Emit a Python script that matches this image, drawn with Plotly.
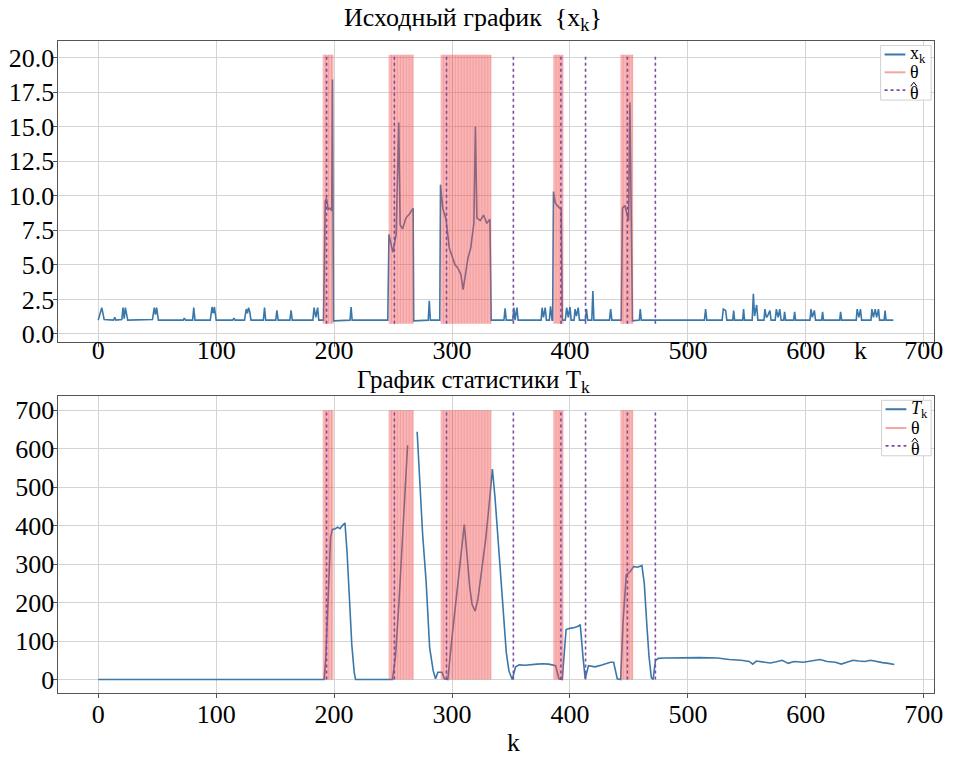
import plotly.graph_objects as go

# ---------------- data ----------------
# series x_k : (k, value) breakpoints
xk_points = [
    (0, 1.0), (3, 1.9), (5, 1.05), (13, 1.0), (14, 1.2), (15, 1.0), (20, 1.05), (21, 1.9), (22, 1.1),
    (23, 1.9), (25, 1.0), (46, 1.05), (47.5, 1.9), (48.5, 1.4), (49.5, 1.9), (51, 1.0), (72, 1.0),
    (73, 1.15), (74, 1.0), (80, 1.0), (81, 1.9), (82, 1.0), (95, 1.0), (96.5, 1.95), (97.5, 1.5),
    (98.5, 1.95), (100, 1.0), (114, 1.0), (115, 1.15), (116, 1.0), (124, 1.0), (125.5, 1.8),
    (126.5, 1.5), (127.5, 1.9), (128.5, 1.6), (129.5, 1.0), (140, 1.0), (141, 1.9), (142, 1.0),
    (150.5, 1.0), (151.5, 1.7), (152.5, 1.0), (162.5, 1.0), (163.5, 1.7), (164.5, 1.0), (182, 1.0),
    (183, 1.9), (184.5, 1.2), (186, 1.9), (187, 1.0), (190, 1.0),
    (191, 1.0), (192.5, 9.6), (193.5, 9.8), (195, 9.0), (196.5, 9.1), (198, 8.9), (198.6, 18.4),
    (199.5, 0.95),
    (213.5, 1.0), (214.4, 1.95), (215.3, 1.0), (245.5, 1.0),
    (246.5, 7.2), (249.8, 5.9), (252.6, 7.2), (254.8, 15.3), (256, 7.9), (258, 7.6), (261, 8.4),
    (264, 8.7), (267.0, 9.1), (267.5, 0.95),
    (279.8, 1.0), (280.7, 2.4), (281.6, 1.0), (289.6, 1.0),
    (290.2, 10.8), (292.1, 9.1), (294.9, 8.3), (297.7, 6.2), (300.5, 5.5), (302.5, 5.0), (304.7, 4.8),
    (306, 4.5), (307.5, 4.3), (309.4, 3.2), (311.6, 4.6), (313.5, 5.5), (315.8, 6.2), (317.5, 7.5),
    (318.5, 8.0), (319.8, 15.0), (321.1, 8.4), (323.9, 8.2), (326.7, 8.6), (329.5, 8.0), (332.1, 8.3),
    (333.2, 1.0),
    (344, 1.0), (345, 1.85), (346, 1.0), (351.5, 1.0), (352.4, 1.9), (353.4, 1.0), (355, 1.9),
    (356, 1.0), (375.5, 1.0), (376.4, 1.9), (377.5, 1.2), (379, 1.9), (380, 1.0), (382.5, 1.0),
    (383.5, 2.0), (384.8, 1.0),
    (385.3, 1.0), (386, 10.3), (387.5, 9.5), (389, 9.3), (391, 9.1), (392.5, 9.0), (393.5, 1.0),
    (396, 1.0), (397.2, 1.9), (398.5, 1.2), (400, 1.95), (401, 1.0), (403.5, 1.0), (404.3, 1.8),
    (405.5, 1.3), (407, 1.9), (408, 1.0), (413, 1.0), (414, 1.8), (415, 1.0), (418.5, 1.0),
    (419.4, 3.1), (420.3, 1.0), (433.5, 1.0), (434.5, 1.8), (435.5, 1.0), (443.5, 1.0),
    (444.5, 9.1), (446.5, 9.3), (449.7, 8.2), (450.8, 16.75), (453, 0.95), (458.8, 1.0), (459.6, 1.8),
    (460.5, 1.0),
    (514, 1.0), (515, 1.8), (516, 1.0), (529, 1.0), (530, 1.8), (532, 1.7), (533, 1.0), (538, 1.0),
    (538.8, 1.7), (539.6, 1.0), (546.4, 1.0), (547.2, 1.8), (548, 1.0), (554.5, 1.0), (555.5, 2.9),
    (556.5, 1.3), (558.3, 2.1), (559.3, 1.0), (564.5, 1.0), (565.3, 1.8), (566.5, 1.2), (567.5, 1.3),
    (569.5, 1.7), (570.5, 1.0), (574, 1.0), (575, 1.8), (576.5, 1.2), (577.9, 1.8), (579, 1.0),
    (581.2, 1.0), (582, 1.6), (582.8, 1.0), (589.7, 1.0), (590.5, 1.6), (591.3, 1.0), (603.5, 1.0),
    (604.4, 1.8), (605.5, 1.2), (607.2, 1.7), (608.2, 1.0), (613.4, 1.0), (614.2, 1.6), (615, 1.0),
    (628.7, 1.0), (629.5, 1.6), (630.3, 1.0), (642.7, 1.0), (643.5, 1.8), (645, 1.2), (646.3, 1.8),
    (647.3, 1.0), (655.2, 1.0), (656, 1.8), (657.3, 1.2), (658.8, 1.8), (660, 1.2), (661.6, 1.8),
    (662.5, 1.0), (666.4, 1.0), (667.2, 1.7), (668, 1.0), (674.2, 1.0),
]

# statistic T_k : (k, value) breakpoints (None = gap)
tk_points = [
    (0, 0), (191.5, 0), (193, 60), (195, 220), (197, 370), (198.5, 390), (201, 392), (203, 396),
    (205, 392), (207, 400), (209.2, 407), (211, 330), (213, 200), (215, 90), (217, 20), (218.2, 0),
    (249.5, 0), (252, 60), (255, 200), (258, 360), (260, 480), (262.3, 609), (None, None),
    (270.4, 644), (272.5, 520), (275, 380), (278, 255), (281, 83), (284, 23), (286, 2), (288, 19),
    (291.4, 19), (293.6, 2), (296.4, 0), (300, 110), (304, 220), (308, 340), (310.4, 403),
    (312.5, 330), (315, 240), (317, 195), (319.6, 178), (322, 210), (325, 280), (327, 330),
    (328.6, 367), (331, 440), (334.2, 547), (336.5, 470), (339.8, 332), (342, 220), (344, 135),
    (346, 70), (348.2, 23), (351, 0), (353.9, 33), (357, 38), (362, 37), (367, 39), (372, 40),
    (377, 41), (382, 40), (387.8, 36), (390.6, 2), (393.4, 0), (396.7, 130), (400, 133), (404, 135),
    (407.3, 139), (408.7, 143), (411, 60), (412.9, 2), (415.7, 36), (421.3, 33), (427, 38),
    (431, 42), (434.3, 45), (437, 45), (440.1, 2), (443, 0), (445, 150), (447.7, 272), (451, 280),
    (454.1, 294), (457, 292), (461, 296), (463, 250), (465, 150), (467, 60), (469, 5), (470.5, 0),
    (472.5, 50), (475, 55), (480, 56), (495, 57), (510, 57), (525, 56), (535, 52), (545, 50),
    (552, 47), (555, 40), (558, 48), (565, 45), (570, 43), (575, 46), (580, 50), (585, 42),
    (590, 47), (598, 45), (605, 49), (612, 52), (618, 47), (625, 45), (630, 40), (635, 44),
    (640, 50), (645, 48), (650, 47), (655, 50), (660, 46), (665, 44), (670, 42), (675, 39),
]

# change points theta (shaded bands) and estimates theta-hat (dotted lines)
theta_start = [190.3, 246.2, 290.3, 385.8, 442.7]
theta_end = [199.5, 267.5, 333.3, 394.5, 453.6]
theta_hat = [193.6, 251.1, 295.3, 352.0, 392.3, 413.2, 448.7, 472.4]

band_top = [0.74, 20.2]      # vertical extent of marks, top panel
band_bot = [0.0, 700.0]      # vertical extent of marks, bottom panel

x_ticks = [0, 100, 200, 300, 400, 500, 600, 700]
y1_ticks = [0, 2.5, 5, 7.5, 10, 12.5, 15, 17.5, 20]
y1_labels = ["0.0", "2.5", "5.0", "7.5", "10.0", "12.5", "15.0", "17.5", "20.0"]
y2_ticks = [0, 100, 200, 300, 400, 500, 600, 700]

legend1_labels = ["x<sub>k</sub>", "θ", "θ"]
legend2_labels = ["<i>T</i><sub>k</sub>", "θ", "θ"]

# ---------------- styling ----------------
FONT = "Liberation Serif"
BLUE = "#3b78aa"
RED_FILL = "rgba(240,80,80,0.42)"
RED_STRIPE = "rgba(230,70,70,0.22)"
STRIPE_STEP = 2.5
RED_LEG = "#f4a4a4"
PURPLE = "#7d4a9e"
GRID = "#d4d4d4"
FRAME = "#555555"

W, H = 954, 765
def px_x(p): return p / W
def px_y(p): return 1 - p / H

fig = go.Figure()

xk_k = [p[0] for p in xk_points]
xk_v = [p[1] for p in xk_points]
tk_k = [p[0] for p in tk_points]
tk_v = [p[1] for p in tk_points]

fig.add_trace(go.Scatter(x=xk_k, y=xk_v, mode="lines", line=dict(color=BLUE, width=1.6),
                         name="x_k", xaxis="x", yaxis="y", showlegend=False))
fig.add_trace(go.Scatter(x=tk_k, y=tk_v, mode="lines", line=dict(color=BLUE, width=1.6),
                         name="T_k", xaxis="x2", yaxis="y2", showlegend=False, connectgaps=False))

shapes = []
for xr, yr, ext in (("x", "y", band_top), ("x2", "y2", band_bot)):
    for s, e in zip(theta_start, theta_end):
        shapes.append(dict(type="rect", xref=xr, yref=yr, x0=s, x1=e, y0=ext[0], y1=ext[1],
                           fillcolor=RED_FILL, line=dict(width=0), layer="above"))
        n = int((e - s) / STRIPE_STEP)
        for j in range(1, n + 1):
            xs = s + j * STRIPE_STEP
            if xs < e:
                shapes.append(dict(type="line", xref=xr, yref=yr, x0=xs, x1=xs, y0=ext[0], y1=ext[1],
                                   line=dict(color=RED_STRIPE, width=1), layer="above"))
    for t in theta_hat:
        shapes.append(dict(type="line", xref=xr, yref=yr, x0=t, x1=t, y0=ext[0], y1=ext[1],
                           line=dict(color=PURPLE, width=1.6, dash="dot"), layer="above"))

annotations = []

# hand-drawn legends (box, line samples, labels)
def add_legend(box, rows, labels):
    x0, y0, x1, y1 = box
    shapes.append(dict(type="rect", xref="paper", yref="paper",
                       x0=px_x(x0), x1=px_x(x1), y0=px_y(y1), y1=px_y(y0),
                       fillcolor="rgba(255,255,255,0.9)", line=dict(color="#d0d0d0", width=1),
                       layer="above"))
    styles = [dict(color=BLUE, width=2), dict(color=RED_LEG, width=2),
              dict(color=PURPLE, width=1.6, dash="dot")]
    for i, (ry, lab, st) in enumerate(zip(rows, labels, styles)):
        shapes.append(dict(type="line", xref="paper", yref="paper",
                           x0=px_x(x0 + 4), x1=px_x(x0 + 25), y0=px_y(ry), y1=px_y(ry),
                           line=st, layer="above"))
        ty = ry + (3 if i == 2 else 0)
        annotations.append(dict(text=lab, xref="paper", yref="paper", x=px_x(x0 + 28), y=px_y(ty),
                                xanchor="left", yanchor="middle", showarrow=False,
                                font=dict(family=FONT, size=18, color="black")))
        if i == 2:
            # circumflex accent above theta
            cx, cy = x0 + 33.5, ty - 9
            path = "M {} {} L {} {} L {} {}".format(px_x(cx - 3), px_y(cy + 2), px_x(cx), px_y(cy - 2),
                                                  px_x(cx + 3), px_y(cy + 2))
            shapes.append(dict(type="path", xref="paper", yref="paper", path=path,
                               line=dict(color="black", width=1), layer="above"))

add_legend((889, 46, 940, 101), [55, 73, 91], legend1_labels)
add_legend((890, 404, 940, 460), [413, 432, 450], legend2_labels)

xdom = [px_x(59), px_x(943)]
axis_common = dict(showline=True, mirror=True, linecolor=FRAME, linewidth=1,
                   showgrid=True, gridcolor=GRID, gridwidth=1, zeroline=False,
                   ticks="outside", ticklen=4, tickcolor=FRAME,
                   tickfont=dict(family=FONT, size=26, color="black"))

annotations += [
    dict(text="Исходный график  {x<sub>k</sub>}", xref="paper", yref="paper",
         x=px_x(478), y=px_y(19), xanchor="center", yanchor="middle", showarrow=False,
         font=dict(family=FONT, size=26)),
    dict(text="График статистики T<sub>k</sub>", xref="paper", yref="paper",
         x=px_x(478), y=px_y(385), xanchor="center", yanchor="middle", showarrow=False,
         font=dict(family=FONT, size=25)),
    dict(text="k", xref="paper", yref="paper", x=px_x(869), y=px_y(354),
         xanchor="center", yanchor="middle", showarrow=False, font=dict(family=FONT, size=26)),
    dict(text="k", xref="paper", yref="paper", x=px_x(518), y=px_y(749),
         xanchor="center", yanchor="middle", showarrow=False, font=dict(family=FONT, size=26)),
]

fig.update_layout(
    width=W, height=H, margin=dict(l=0, r=0, t=0, b=0),
    paper_bgcolor="white", plot_bgcolor="white",
    font=dict(family=FONT, size=24, color="black"),
    showlegend=False,
    shapes=shapes,
    annotations=annotations,
    xaxis=dict(domain=xdom, anchor="y", range=[-33.75, 708.75], tickvals=x_ticks,
               ticklabelstandoff=-19, **axis_common),
    yaxis=dict(domain=[px_y(345), px_y(41.7)], anchor="x", range=[-0.57, 21.17],
               tickvals=y1_ticks, ticktext=y1_labels, ticklabelstandoff=-6, **axis_common),
    xaxis2=dict(domain=xdom, anchor="y2", range=[-33.75, 708.75], tickvals=x_ticks,
                ticklabelstandoff=-6, **axis_common),
    yaxis2=dict(domain=[px_y(699), px_y(400)], anchor="x2", range=[-34, 736],
                tickvals=y2_ticks, ticklabelstandoff=-6, **axis_common),
)

fig.write_html("out.html")
